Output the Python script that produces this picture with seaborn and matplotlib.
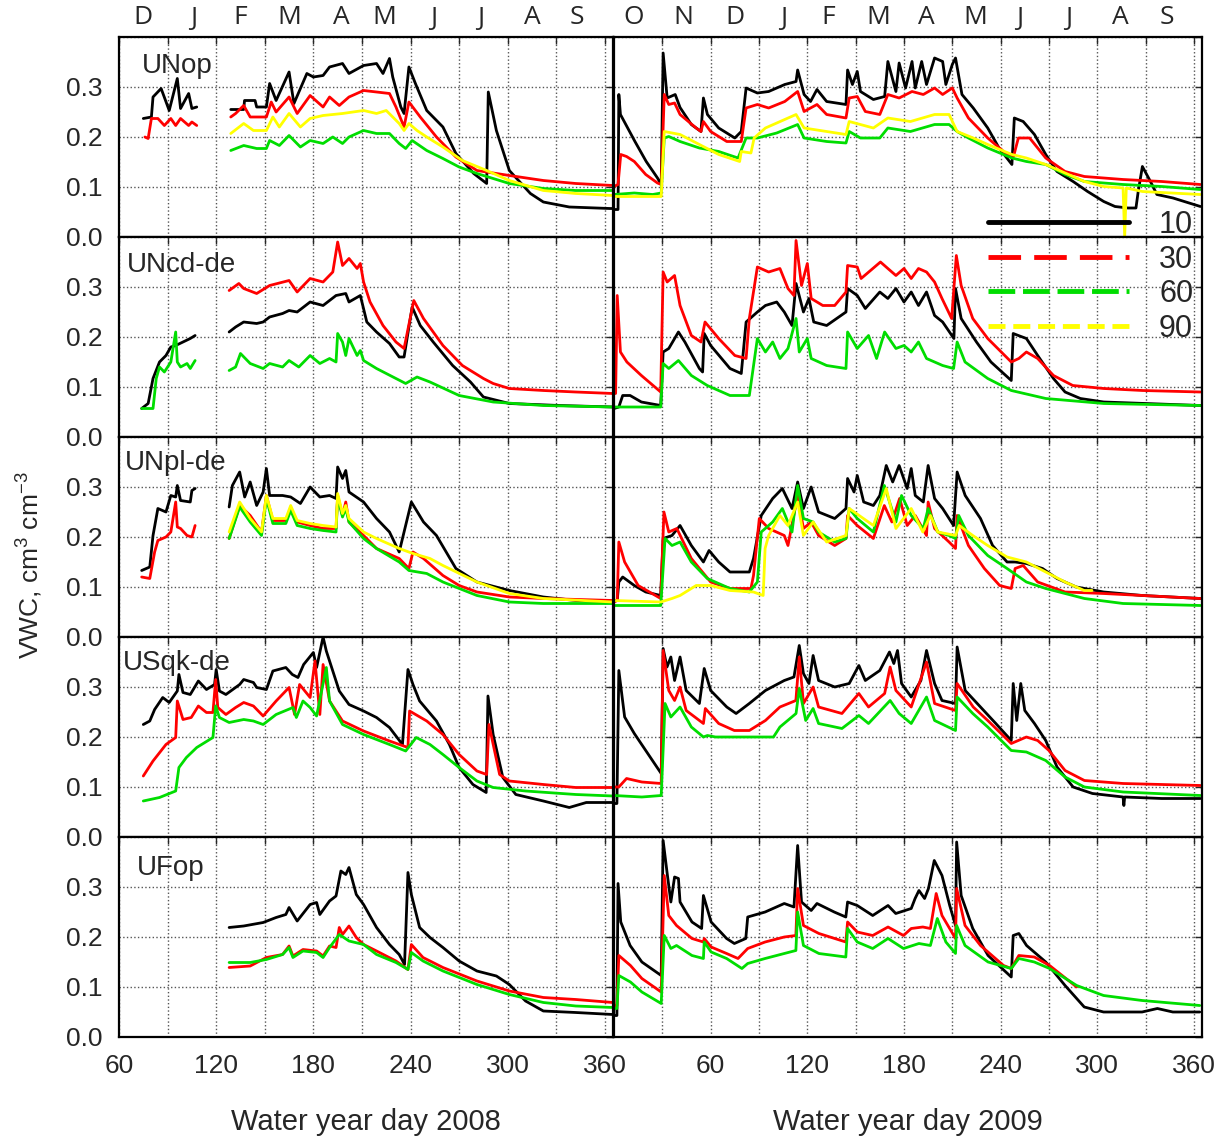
import matplotlib
matplotlib.use("Agg")
import matplotlib.pyplot as plt
import pandas as pd
import seaborn as sns
from matplotlib.lines import Line2D

# values: (water year day, VWC cm3 cm-3); None marks a gap in the record
unop08_10 = [(75, .237), (80, .240), (81, .280), (86, .297), (91, .253), (96, .317), (98, .257), (103, .287),
             (105, .257), (108, .260), None,
             (129, .255), (137, .255), (137.5, .273), (144, .273), (145, .26), (151, .26), (153, .307), (157, .273),
             (165, .33), (168, .267), (176, .327), (180, .32), (186, .323), (190, .34), (198, .347), (202, .327),
             (211, .343), (219, .347), (223, .327), (227, .357), (229, .32), (234, .26), (236, .247), (239, .34),
             (243, .307), (250, .253), (260, .22), (268, .167), (279, .127), (287, .107), (288, .29), (293, .213),
             (301, .133), (314, .087), (322, .07), (338, .06), (363, .057), (365, .057)]
unop08_30 = [(76, .2), (78, .197), (80, .237), (84, .237), (88, .223), (92, .237), (95, .223), (98, .237), (103, .223),
             (105, .23), (108, .223), None,
             (129, .24), (132, .247), (137, .263), (141, .24), (151, .24), (154, .27), (157, .25), (165, .28),
             (170, .247), (178, .283), (186, .26), (190, .28), (196, .263), (202, .28), (211, .293), (219, .29),
             (227, .287), (231, .26), (236, .22), (239, .27), (246, .24), (256, .2), (268, .16), (281, .133),
             (301, .123), (322, .113), (342, .107), (365, .103)]
unop08_60 = [(129, .173), (137, .183), (145, .177), (151, .177), (153, .193), (159, .183), (165, .203), (172, .18),
             (178, .193), (186, .187), (192, .2), (198, .187), (202, .2), (211, .213), (219, .207), (227, .207),
             (233, .187), (237, .177), (241, .193), (250, .173), (260, .157), (270, .14), (281, .127), (301, .107),
             (322, .097), (342, .093), (365, .093)]
unop08_90 = [(129, .207), (137, .227), (143, .213), (151, .213), (155, .24), (159, .22), (165, .247), (172, .22),
             (178, .237), (186, .243), (198, .247), (211, .253), (219, .247), (225, .253), (233, .227), (236, .213),
             (239, .227), (244, .213), (250, .2), (260, .18), (272, .153), (287, .133), (301, .113), (322, .093),
             (342, .087), (365, .083)]

unop09_10 = [(0, .055), (2.5, .055), (3, .285), (4, .245), (13, .191), (20, .151), (27, .118), (29.3, .105),
             (30.5, .368), (33, .278), (38, .285), (41, .259), (48, .225), (54, .211), (55.5, .278), (58, .245),
             (65, .218), (75, .198), (79, .211), (82, .298), (89, .288), (96, .291), (106, .305), (113, .311),
             (114, .334), (118, .285), (122, .271), (126, .295), (132, .271), (144, .265), (145, .334), (148, .305),
             (151, .331), (153, .291), (161, .275), (168, .281), (170, .351), (175, .291), (177, .348), (181, .298),
             (185, .351), (187, .298), (191, .351), (194, .305), (199, .358), (204, .351), (206, .305), (210, .345),
             (212, .358), (216, .285), (223, .258), (232, .218), (239, .178), (247, .145), (248.5, .238), (254, .231),
             (261, .205), (268, .165), (275, .131), (285, .111), (294, .091), (304, .071), (311, .061), (319, .058),
             (324, .058), (325.4, .091), (328, .141), (333, .111), (337, .085), (347, .078), (364, .061)]
unop09_30 = [(0, .101), (2.5, .105), (4.2, .165), (7.8, .161), (12.6, .151), (19.7, .125), (27, .108), (29.3, .105),
             (31.2, .285), (34, .265), (37.6, .268), (41, .245), (51, .218), (54, .211), (55.5, .231), (60, .211),
             (70, .191), (79, .191), (82, .258), (89, .265), (96, .258), (106, .271), (114, .291), (118, .251),
             (126, .265), (132, .245), (144, .238), (146, .278), (151, .281), (156, .251), (165, .245), (170, .285),
             (177, .278), (185, .291), (192, .285), (199, .298), (204, .285), (210, .298), (213, .278), (220, .238),
             (232, .198), (244, .165), (248, .161), (251, .198), (258, .198), (268, .158), (280, .131), (292, .121),
             (316, .115), (340, .111), (364, .105)]
unop09_60 = [(0, .085), (12.6, .088), (24, .085), (29.3, .088), (31.2, .198), (34, .201), (41, .191), (53, .178),
             (65, .171), (77, .158), (82, .198), (89, .198), (101, .208), (114, .225), (118, .198), (132, .191),
             (144, .188), (146, .211), (153, .198), (165, .198), (170, .218), (184, .211), (199, .225), (208, .225),
             (213, .211), (220, .198), (232, .178), (247, .158), (256, .151), (268, .145), (280, .125), (292, .111),
             (316, .105), (340, .101), (364, .095)]
unop09_90 = [(0, .081), (29.3, .081), (31.2, .211), (41, .205), (53, .185), (65, .165), (78, .151), (79, .171),
             (85, .168), (87, .198), (94, .218), (113, .245), (118, .218), (132, .211), (144, .205), (146, .231),
             (161, .218), (170, .238), (184, .231), (199, .245), (208, .245), (213, .211), (223, .198), (232, .185),
             (247, .165), (256, .158), (268, .145), (280, .128), (292, .111), (304, .101), (316, .098), (317, .0),
             (318, .098), (328, .091), (364, .085)]

uncd08_10 = [(74, .057), (78, .067), (81, .117), (85, .15), (89, .163), (92, .18), (95, .183), (99.5, .19),
             (104, .197), (107, .203), None,
             (128, .21), (132, .22), (137, .23), (145, .227), (149, .23), (153, .24), (161, .247), (165, .253),
             (170, .25), (178, .27), (186, .263), (194, .283), (200, .287), (202, .27), (209, .283), (213, .23),
             (219, .21), (227, .187), (233, .16), (236, .16), (241, .26), (246, .223), (254, .19), (266, .143),
             (277, .11), (285, .08), (301, .067), (332, .063), (365, .06)]
uncd08_30 = [(128, .293), (134, .307), (137, .297), (145, .287), (153, .303), (165, .313), (170, .29), (178, .317),
             (186, .31), (192, .33), (195, .39), (198, .343), (202, .357), (207, .337), (209, .347), (211, .31),
             (215, .27), (223, .223), (231, .19), (236, .177), (242, .273), (248, .237), (260, .183), (272, .143),
             (285, .117), (291, .107), (301, .097), (322, .093), (342, .09), (365, .087)]
uncd08_60 = [(74, .057), (81, .057), (83, .117), (85, .14), (88, .13), (92, .15), (95, .21), (96, .15), (98, .14),
             (102, .147), (104, .137), (107, .153), None,
             (128, .133), (132, .14), (135, .167), (141, .147), (149, .137), (153, .147), (161, .14), (165, .153),
             (171, .14), (178, .163), (184, .147), (190, .157), (194, .15), (195, .207), (198, .19), (200, .163),
             (202, .197), (207, .163), (209, .173), (211, .153), (219, .137), (231, .117), (237, .107), (244, .12),
             (252, .11), (270, .083), (291, .07), (322, .063), (365, .06)]

uncd09_10 = [(0, .057), (3, .06), (5.4, .083), (10, .083), (17, .07), (29, .063), (30.5, .17), (34, .177), (40, .21),
             (44, .19), (53, .137), (55, .13), (56, .207), (60, .183), (72, .137), (79, .127), (82, .23), (89, .25),
             (94, .263), (101, .27), (105.7, .25), (110.5, .223), (113, .307), (117.6, .25), (121, .277), (124, .23),
             (132, .223), (144, .25), (145, .297), (151, .283), (156, .257), (165, .29), (170, .277), (175, .297),
             (180, .27), (184.5, .29), (189, .263), (194, .29), (199, .243), (204, .23), (211, .197), (212, .297),
             (215.5, .237), (225, .19), (234, .15), (246.6, .113), (247.8, .207), (251, .203), (256, .197),
             (263, .163), (272.8, .117), (280, .09), (289.5, .077), (304, .07), (364, .063)]
uncd09_30 = [(0, .087), (1, .087), (2, .283), (4, .17), (8, .15), (17, .123), (29, .09), (30.5, .33), (33, .31),
             (37.6, .323), (41, .263), (48, .203), (54, .19), (56.5, .23), (65, .197), (75, .163), (82, .157),
             (84, .237), (89, .34), (96, .33), (103, .337), (108, .297), (111.7, .283), (113, .393), (116.4, .303),
             (120, .347), (122.4, .277), (129.6, .263), (137, .263), (144, .29), (145, .343), (151, .34),
             (153.4, .317), (165.4, .35), (170, .337), (175, .323), (180, .337), (184.5, .317), (189, .337),
             (194, .33), (199, .31), (203.6, .277), (209.6, .237), (212.5, .363), (215.5, .303), (222.7, .237),
             (232, .197), (246.6, .15), (251.3, .157), (256, .17), (263, .157), (272.8, .123), (284.8, .103),
             (304, .097), (328, .093), (364, .09)]
uncd09_60 = [(0, .06), (29, .06), (30.5, .147), (34, .137), (40, .153), (48, .123), (57.9, .103), (72, .083),
             (84, .083), (89, .197), (94, .17), (98.5, .19), (103, .157), (108, .177), (113, .237), (115, .17),
             (120, .197), (122.4, .157), (132, .143), (144, .137), (145, .21), (151, .177), (158, .203), (163, .157),
             (168, .21), (175, .177), (180, .183), (184.5, .17), (189, .19), (194, .157), (204, .143), (210.8, .137),
             (213, .19), (217.9, .15), (232, .117), (246.6, .093), (268, .077), (304, .067), (364, .063)]

unpl08_10 = [(74, .133), (79, .14), (81, .203), (84, .257), (89, .25), (92, .283), (95, .28), (96, .303), (98, .273),
             (104, .27), (105, .293), (107, .297), None,
             (128, .26), (130, .303), (134.5, .33), (137.6, .28), (141, .31), (145, .263), (149, .29), (151, .337),
             (153, .283), (161, .283), (166, .28), (172, .267), (178, .3), (184, .28), (190, .283), (194, .277),
             (195, .34), (198, .317), (200, .333), (202, .29), (211, .27), (219, .237), (227, .21), (233, .17),
             (240.5, .27), (248, .23), (256, .203), (268, .137), (281, .11), (301, .093), (322, .08), (342, .073),
             (365, .07)]
unpl08_30 = [(74, .12), (79, .117), (82, .17), (84, .193), (89, .2), (92, .21), (95, .27), (96, .22), (98, .217),
             (102, .203), (105, .2), (107, .223), None,
             (128, .197), (134.5, .263), (141, .243), (148, .21), (151, .283), (155, .233), (163, .233), (166, .257),
             (170, .23), (178, .223), (186, .217), (194, .217), (195, .283), (198, .243), (200, .27), (202, .23),
             (211, .203), (219, .177), (233, .157), (239, .137), (241.5, .17), (248, .157), (260, .123), (270, .103),
             (281, .09), (301, .08), (322, .077), (365, .073)]
unpl08_60 = [(128, .197), (134.5, .26), (141, .23), (148, .203), (151, .277), (155, .227), (163, .227), (166, .253),
             (170, .223), (178, .217), (186, .213), (194, .21), (195, .28), (198, .24), (200, .257), (202, .23),
             (211, .197), (219, .177), (233, .15), (239, .133), (250, .127), (260, .11), (281, .083), (301, .07),
             (322, .067), (365, .067)]
unpl08_90 = [(128, .21), (134.5, .27), (141, .237), (148, .21), (151, .283), (155, .237), (163, .237), (166, .263),
             (170, .233), (178, .227), (186, .223), (194, .22), (195, .287), (198, .247), (200, .263), (202, .237),
             (211, .21), (219, .197), (233, .177), (241.5, .167), (252, .157), (260, .143), (281, .11), (301, .087),
             (322, .077), (365, .07)]

unpl09_10 = [(0, .073), (2, .073), (3, .11), (5.4, .12), (12.6, .103), (19.7, .09), (29, .083), (30.5, .197),
             (36, .203), (41, .223), (48, .183), (55.5, .15), (59, .173), (65, .15), (72, .13), (84, .13),
             (86.6, .157), (91.4, .243), (98.5, .277), (104.5, .297), (110.5, .257), (114, .31), (117.6, .257),
             (122.4, .3), (127, .25), (137, .237), (144, .257), (145, .317), (149, .29), (151, .323), (155, .27),
             (161, .263), (165, .283), (169, .343), (173, .31), (177, .343), (182, .297), (184.5, .337), (187, .283),
             (192, .27), (195, .343), (199, .277), (204, .257), (210.8, .223), (213, .33), (218, .283),
             (227.5, .237), (235, .183), (244, .15), (249, .15), (256, .147), (266, .137), (275, .117), (287, .1),
             (304, .09), (328, .083), (364, .077)]
unpl09_30 = [(0, .07), (2, .073), (3, .19), (6.6, .15), (15, .103), (29, .077), (31, .25), (34, .21), (39, .217),
             (48, .157), (60, .11), (72, .097), (85, .097), (86.6, .123), (90.2, .237), (96, .217), (105.7, .203),
             (108, .183), (114, .283), (117.6, .217), (122.4, .23), (127, .203), (137, .183), (144, .197),
             (145, .243), (151, .223), (161, .197), (167.8, .263), (172.5, .23), (177.3, .277), (182, .223),
             (187, .243), (194, .203), (195, .27), (199, .217), (208, .19), (212, .177), (213, .243), (220, .183),
             (229.9, .137), (239.4, .103), (246.6, .097), (249, .137), (254, .143), (263, .11), (280, .09),
             (304, .087), (328, .083), (364, .077)]
unpl09_60 = [(0, .063), (29, .063), (31.7, .197), (36, .183), (41, .19), (48, .15), (57.9, .117), (72, .097),
             (84, .09), (89, .11), (91.4, .21), (98.5, .23), (104.5, .257), (110.5, .21), (114, .303), (117.6, .237),
             (123.6, .23), (127, .21), (137, .19), (144, .197), (146, .257), (151, .237), (161, .21), (167.8, .303),
             (175, .23), (178.5, .283), (184.5, .243), (192, .217), (195, .257), (201, .21), (208, .203), (212, .197),
             (214, .243), (220, .203), (232, .163), (244, .137), (256, .11), (268, .097), (292, .077), (316, .067),
             (364, .063)]
unpl09_90 = [(0, .073), (29, .07), (36, .077), (41, .083), (51, .103), (60, .103), (72, .093), (86.6, .09),
             (92.6, .083), (93.8, .177), (96, .203), (103, .243), (108, .223), (114, .27), (117.6, .203),
             (123.6, .23), (132, .19), (144, .203), (146, .257), (161, .223), (169, .297), (175, .217), (184.5, .257),
             (191.7, .21), (196.4, .243), (201, .21), (212, .203), (214.3, .223), (222.7, .203), (232, .183),
             (244, .16), (256, .15), (268, .13), (280, .11), (291.9, .093), (296.7, .093)]

usqk08_10 = [(75, .225), (79, .232), (82, .255), (87, .279), (91, .269), (96, .292), (97, .325), (99.5, .289),
             (104, .285), (109, .312), (114, .295), (119, .305), (120, .335), (122, .292), (126, .285),
             (134.5, .305), (137, .315), (143, .309), (145, .299), (151, .295), (155, .332), (163, .339), (167, .325),
             (170.5, .319), (174, .345), (180, .369), (182, .339), (186, .40), (188, .372), (192, .332), (196, .292),
             (202, .265), (211, .252), (219, .239), (227, .219), (235, .185), (238.4, .335), (241.5, .305),
             (245.6, .272), (256, .232), (264, .185), (270, .139), (278.5, .105), (286.7, .089), (287.8, .282),
             (291, .205), (297, .119), (305, .085), (322, .072), (338, .059), (348.5, .069), (365, .069)]
usqk08_30 = [(75, .122), (81, .152), (89, .185), (95, .199), (96, .272), (99.5, .235), (104.6, .239), (109, .262),
             (114, .249), (118, .249), (119.7, .315), (121, .259), (126, .245), (132, .259), (137, .269), (143, .262),
             (149, .242), (157, .272), (165, .299), (168.4, .245), (171.5, .305), (178, .279), (181, .352),
             (184, .245), (186, .345), (190, .272), (198, .232), (211, .212), (227, .192), (238.4, .179),
             (239.4, .252), (250, .232), (260, .205), (270, .165), (281, .132), (287, .125), (288.4, .225),
             (295, .125), (301, .112), (322, .105), (342, .099), (365, .099)]
usqk08_60 = [(75, .072), (85, .079), (95, .092), (97, .139), (101.6, .159), (108, .179), (118, .199), (119.7, .262),
             (122, .239), (128, .229), (137, .235), (143, .232), (149, .225), (157, .245), (167.4, .259),
             (169.5, .239), (173.6, .272), (178, .259), (182, .242), (188, .339), (190, .272), (198, .225),
             (211, .205), (227, .185), (237, .172), (243.5, .199), (252, .185), (260, .165), (270, .139), (281, .112),
             (291, .099), (311, .092), (342, .085), (365, .082)]

usqk09_10 = [(0, .067), (1.8, .067), (3, .333), (6.6, .24), (12.6, .207), (19.7, .173), (29.3, .127), (30.5, .377),
             (32.9, .34), (35.3, .36), (37.6, .313), (41, .36), (44.8, .293), (53, .267), (56, .337), (60, .293),
             (70, .26), (75.8, .247), (84, .267), (94, .293), (105.7, .313), (111.7, .32), (115, .383),
             (117.6, .327), (121, .307), (123.6, .363), (127, .313), (137, .3), (146, .307), (152, .343), (156, .313),
             (165, .333), (171, .37), (173.7, .347), (176, .373), (178.5, .307), (184.5, .28), (190.5, .313),
             (194, .373), (199, .307), (203.6, .273), (212, .267), (213, .38), (218, .293), (227.5, .26), (237, .227),
             (246.6, .193), (247.8, .307), (250, .233), (252.5, .307), (255, .253), (261, .227), (268, .193),
             (275, .14), (285, .1), (297, .087), (316, .08), (316.5, .063), (317, .08), (340, .077), (364, .077)]
usqk09_30 = [(0, .1), (3, .1), (7.8, .117), (17.3, .11), (29.3, .107), (30.5, .373), (34, .293), (37.6, .273),
             (41, .3), (44.8, .253), (55.5, .227), (56.7, .257), (65, .227), (74.7, .213), (84, .213), (94, .233),
             (103, .26), (112.9, .273), (115, .36), (117.6, .267), (123.6, .3), (127, .26), (141.5, .247),
             (152, .287), (158, .26), (168, .287), (171.4, .34), (175, .293), (184.5, .26), (194, .35), (199, .267),
             (212, .253), (213, .307), (223, .26), (232, .233), (246.6, .187), (256, .2), (263, .193), (270, .173),
             (280, .133), (292, .113), (316, .107), (364, .103)]
usqk09_60 = [(0, .083), (17.3, .08), (29.3, .083), (31.7, .267), (35.3, .24), (41, .26), (48, .22), (55.5, .2),
             (58, .203), (63, .2), (99, .2), (103, .22), (113, .247), (115, .297), (119, .233), (123.6, .257),
             (127, .227), (141.5, .217), (152, .243), (158, .227), (171.4, .273), (177, .247), (184.5, .227),
             (194, .28), (199, .233), (212, .213), (213, .28), (222.7, .247), (232, .22), (246.6, .173), (256, .17),
             (268, .153), (280, .12), (292, .1), (316, .09), (364, .083)]

ufop08_10 = [(128, .219), (137, .222), (149, .229), (157, .239), (163, .245), (165, .259), (170, .232), (178, .265),
             (182, .269), (184, .245), (190, .272), (194, .282), (197, .332), (200, .325), (202, .339),
             (206.5, .285), (211, .265), (219, .219), (227, .185), (233, .165), (236.3, .145), (238.4, .329),
             (240.5, .285), (245.6, .219), (252, .199), (260, .179), (270, .152), (281, .132), (293, .122),
             (301, .105), (311, .072), (322, .052), (342, .049), (365, .045)]
ufop08_30 = [(128, .139), (141, .142), (151, .159), (161, .165), (165, .182), (167.4, .162), (173.6, .175),
             (182, .172), (186, .162), (190, .182), (194, .179), (196, .219), (198, .205), (202, .222),
             (206.5, .199), (211, .185), (219, .172), (231, .152), (238.4, .135), (240.5, .185), (247.7, .159),
             (260, .139), (281, .112), (301, .092), (322, .079), (342, .075), (365, .069)]
ufop08_60 = [(128, .149), (141, .149), (151, .155), (161, .165), (165, .179), (167.4, .159), (173.6, .172),
             (182, .169), (186, .159), (190, .179), (196, .205), (202, .192), (211, .185), (219, .165), (231, .149),
             (238.4, .135), (240.5, .169), (247.7, .152), (260, .132), (281, .105), (301, .085), (322, .069),
             (342, .062), (365, .059)]

ufop09_10 = [(0, .043), (1.8, .043), (2.5, .307), (4.2, .23), (10, .183), (17.3, .15), (29.3, .123), (30.5, .393),
             (32.9, .33), (35.3, .27), (37.6, .32), (40, .317), (41, .27), (48.4, .23), (54.4, .217), (55.5, .283),
             (60.3, .23), (69.9, .197), (74.7, .187), (81.8, .197), (83, .24), (93.8, .25), (105.7, .267),
             (111.7, .26), (114, .383), (116.4, .27), (122.4, .253), (126, .267), (136.7, .25), (143.9, .24),
             (145, .27), (151, .263), (160.6, .243), (170.1, .263), (174.9, .247), (184.5, .257), (186.9, .277),
             (189.3, .293), (192.8, .277), (195.2, .297), (198.8, .353), (203.6, .323), (208.4, .263), (212, .223),
             (212.7, .39), (215.5, .283), (222.7, .217), (232.2, .163), (246.6, .12), (247.8, .203), (251.3, .207),
             (256.1, .183), (268, .15), (280, .103), (291.9, .06), (303.9, .05), (327.8, .05), (337.3, .057),
             (346.9, .05), (363.6, .05)]
ufop09_30 = [(0, .063), (1.8, .063), (3, .163), (10.2, .143), (17.3, .117), (29.3, .09), (31.2, .323), (34, .243),
             (38.8, .223), (48.4, .197), (55.5, .19), (56, .197), (60.3, .18), (69.9, .167), (77, .157), (83, .177),
             (93.8, .19), (105.7, .2), (112.9, .203), (114, .297), (117.6, .223), (127.2, .207), (143.9, .19),
             (145, .23), (151, .21), (160.6, .203), (170.1, .22), (179.7, .203), (184.5, .217), (191.7, .22),
             (196.4, .217), (200, .287), (203.6, .243), (212, .197), (212.7, .297), (217.9, .223), (227.5, .183),
             (241.8, .143), (246.6, .137), (251.3, .163), (260.9, .16), (270.4, .143), (287.2, .1)]
ufop09_60 = [(0, .057), (1.8, .057), (3, .123), (10.2, .11), (17.3, .09), (29.3, .067), (31.2, .203), (35.3, .177),
             (38.8, .183), (48.4, .163), (55.5, .157), (56, .19), (60.3, .17), (69.9, .157), (79.4, .137),
             (83, .147), (93.8, .157), (105.7, .167), (112.9, .173), (114, .25), (117.6, .183), (127.2, .167),
             (143.9, .16), (145, .217), (151, .19), (160.6, .177), (170.1, .197), (179.7, .177), (189.3, .187),
             (196.4, .183), (200.7, .237), (206, .19), (212, .167), (212.7, .223), (217.9, .183), (232.2, .15),
             (246.6, .137), (251.3, .157), (260.9, .15), (270.4, .137), (287.2, .103), (303.9, .083), (327.8, .073),
             (363.6, .063)]

sites = ["UNop", "UNcd-de", "UNpl-de", "USqk-de", "UFop"]
depths = ["10", "30", "60", "90"]
months_2008 = ["D", "J", "F", "M", "A", "M", "J", "J", "A", "S"]
months_2008_day = [75, 106, 135, 165, 197, 224, 254, 283, 315, 343]
months_2009 = ["O", "N", "D", "J", "F", "M", "A", "M", "J", "J", "A", "S"]
months_2009_day = [12, 43, 75, 105, 133, 164, 194, 224, 252, 282, 314, 343]

series = [
    ("UNop", 2008, "10", unop08_10), ("UNop", 2008, "30", unop08_30),
    ("UNop", 2008, "60", unop08_60), ("UNop", 2008, "90", unop08_90),
    ("UNop", 2009, "10", unop09_10), ("UNop", 2009, "30", unop09_30),
    ("UNop", 2009, "60", unop09_60), ("UNop", 2009, "90", unop09_90),
    ("UNcd-de", 2008, "10", uncd08_10), ("UNcd-de", 2008, "30", uncd08_30), ("UNcd-de", 2008, "60", uncd08_60),
    ("UNcd-de", 2009, "10", uncd09_10), ("UNcd-de", 2009, "30", uncd09_30), ("UNcd-de", 2009, "60", uncd09_60),
    ("UNpl-de", 2008, "10", unpl08_10), ("UNpl-de", 2008, "30", unpl08_30),
    ("UNpl-de", 2008, "60", unpl08_60), ("UNpl-de", 2008, "90", unpl08_90),
    ("UNpl-de", 2009, "10", unpl09_10), ("UNpl-de", 2009, "30", unpl09_30),
    ("UNpl-de", 2009, "60", unpl09_60), ("UNpl-de", 2009, "90", unpl09_90),
    ("USqk-de", 2008, "10", usqk08_10), ("USqk-de", 2008, "30", usqk08_30), ("USqk-de", 2008, "60", usqk08_60),
    ("USqk-de", 2009, "10", usqk09_10), ("USqk-de", 2009, "30", usqk09_30), ("USqk-de", 2009, "60", usqk09_60),
    ("UFop", 2008, "10", ufop08_10), ("UFop", 2008, "30", ufop08_30), ("UFop", 2008, "60", ufop08_60),
    ("UFop", 2009, "10", ufop09_10), ("UFop", 2009, "30", ufop09_30), ("UFop", 2009, "60", ufop09_60),
]

rows = []
for site, year, depth, pts in series:
    seg = 0
    for p in pts:
        if p is None:
            seg += 1
            continue
        rows.append({"site": site, "year": year, "depth": depth, "seg": f"{depth}-{seg}", "day": p[0], "vwc": p[1]})
data = pd.DataFrame(rows)

palette = {"10": "#000000", "30": "#ff0000", "60": "#00dd00", "90": "#ffff00"}

sns.set_style("white")
plt.rcParams["font.family"] = ["Liberation Sans Narrow", "Liberation Sans", "DejaVu Sans"]
plt.rcParams["mathtext.default"] = "regular"

fig = plt.figure(figsize=(12.29, 11.37), dpi=100)
W, H = 1229, 1137
left_x0, left_x1 = 119, 613
right_x0, right_x1 = 614, 1202
top, row_h = 37, 200
label_x = [0.047, 0.016, 0.012, 0.008, 0.037]
label_y = [0.82, 0.825, 0.835, 0.835, 0.81]

for i, site in enumerate(sites):
    y0 = 1 - (top + row_h * (i + 1)) / H
    for j, year in enumerate([2008, 2009]):
        if j == 0:
            ax = fig.add_axes([left_x0 / W, y0, (left_x1 - left_x0) / W, row_h / H])
        else:
            ax = fig.add_axes([right_x0 / W, y0, (right_x1 - right_x0) / W, row_h / H])
        sub = data[(data.site == site) & (data.year == year)]
        order = [d for d in depths if d in set(sub.depth)]
        sns.lineplot(data=sub, x="day", y="vwc", hue="depth", hue_order=order, units="seg",
                     estimator=None, sort=False, palette=palette, linewidth=2.0, legend=False, ax=ax)
        ax.set_ylim(0, 0.4)
        ax.set_yticks([0, 0.1, 0.2, 0.3, 0.4])
        if j == 0:
            ax.set_xlim(60, 365)
            xt = list(range(60, 361, 30))
        else:
            ax.set_xlim(0, 365)
            xt = list(range(30, 361, 30))
        ax.set_xticks(xt)
        ax.grid(True, linestyle=":", color="#555555", linewidth=1.0)
        ax.tick_params(direction="in", length=5, width=1, top=True, right=True, labelsize=19, pad=12)
        if i == len(sites) - 1:
            ax.set_xticklabels([str(t) if t % 60 == 0 else "" for t in xt])
            ax.set_xlabel(f"Water year day {year}", fontsize=21, labelpad=22)
        else:
            ax.set_xticklabels([])
            ax.set_xlabel("")
        if j == 0:
            ax.set_yticklabels(["0.0", "0.1", "0.2", "0.3", ""])
            ax.text(label_x[i], label_y[i], site, transform=ax.transAxes, fontsize=20,
                    family=["Liberation Sans", "DejaVu Sans"], va="baseline")
        else:
            ax.set_yticklabels([])
        ax.set_ylabel("")
        for s in ax.spines.values():
            s.set_color("black")
            s.set_linewidth(1.6)
        if i == 0:
            mons, mpos = (months_2008, months_2008_day) if j == 0 else (months_2009, months_2009_day)
            for m, d in zip(mons, mpos):
                ax.text(d, 1.095, m, transform=ax.get_xaxis_transform(), ha="center", va="center",
                        fontsize=19, family=["Open Sans", "DejaVu Sans"])

fig.text(30 / W, 1 - 565 / H, "VWC, cm$^{3}$ cm$^{-3}$", rotation=90, ha="center", va="center",
         fontsize=19, family=["Liberation Sans", "DejaVu Sans"])

handles = [
    Line2D([0], [0], color=palette["10"], linewidth=3.5),
    Line2D([0], [0], color=palette["30"], linewidth=3.5, linestyle=(0, (6.7, 2.7))),
    Line2D([0], [0], color=palette["60"], linewidth=3.5, linestyle=(0, (5.5, 1.6))),
    Line2D([0], [0], color=palette["90"], linewidth=3.5, linestyle=(0, (3.5, 1.6))),
]
fig.legend(handles, depths, loc="upper left", bbox_to_anchor=(988 / W, 1 - 210 / H), frameon=False,
           fontsize=22, handlelength=4.6, handletextpad=1.0, labelspacing=0.15, borderpad=0,
           borderaxespad=0)

fig.savefig("out.png", dpi=100)
